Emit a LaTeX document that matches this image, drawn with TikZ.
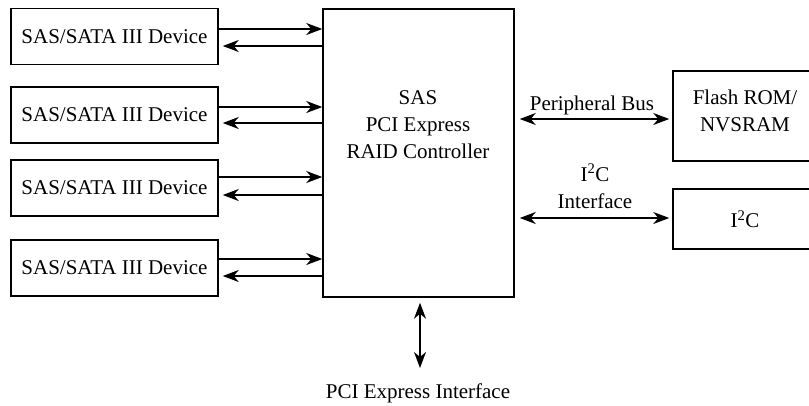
\documentclass[tikz,border=0pt]{standalone}
\usepackage{fontspec}
\setmainfont{Liberation Serif}
\usetikzlibrary{arrows.meta}
\begin{document}
\begin{tikzpicture}[x=1pt,y=-1pt,
  box/.style={draw,line width=1.5pt,inner sep=0pt},
  txt/.style={font=\fontsize{21}{27}\selectfont,inner sep=0pt,align=center},
  arr/.style={line width=1.5pt,-{Stealth[length=16pt,width=12pt,inset=5pt]}},
  darr/.style={line width=1.5pt,{Stealth[length=16pt,width=12pt,inset=5pt]}-{Stealth[length=16pt,width=12pt,inset=5pt]}}]
\useasboundingbox (0,0) rectangle (809,405);
\clip (0,0) rectangle (809,405);
% devices
\foreach \n/\y in {1/36.5,2/115,3/188,4/268}{
  \node[box,txt,minimum width=207pt,minimum height=56pt] (d\n) at (114.5,\y) {SAS/SATA III Device};
}
% controller
\node[box,minimum width=191pt,minimum height=288pt] (ctrl) at (418.5,153) {};
\node[txt] (ctext) at (418,125) {SAS\\PCI Express\\RAID Controller};
% device arrows
\foreach \n/\a/\b in {1/29/46,2/107/123,3/177/195,4/259/276}{
  \draw[arr] (d\n.east |- 0,\a) -- (ctrl.west |- 0,\a);
  \draw[arr,shorten >=4pt] (ctrl.west |- 0,\b) -- (d\n.east |- 0,\b);
}
% right side
\node[box,minimum width=144pt,minimum height=90pt] (flash) at (745,116) {};
\node[txt] (flashtext) at (745,110.5) {Flash ROM/\\NVSRAM};
\node[box,txt,minimum width=144pt,minimum height=60pt] (i2c) at (745,219) {I\textsuperscript{2}C};
\draw[darr,shorten <=5pt,shorten >=3pt] (ctrl.east |- 0,119) -- (flash.west |- 0,119);
\draw[darr,shorten <=5pt,shorten >=3pt] (ctrl.east |- 0,218) -- (i2c.west |- 0,218);
\node[txt] (pblabel) at (592,105) {Peripheral Bus};
\node[txt] (i2clabel) at (595,186) {I\textsuperscript{2}C\\Interface};
% bottom
\coordinate (pcie) at (420,368);
\draw[darr,shorten <=5pt] (ctrl.south -| pcie) -- (pcie);
\node[txt] (pcielabel) at (418,393) {PCI Express Interface};
\end{tikzpicture}
\end{document}
